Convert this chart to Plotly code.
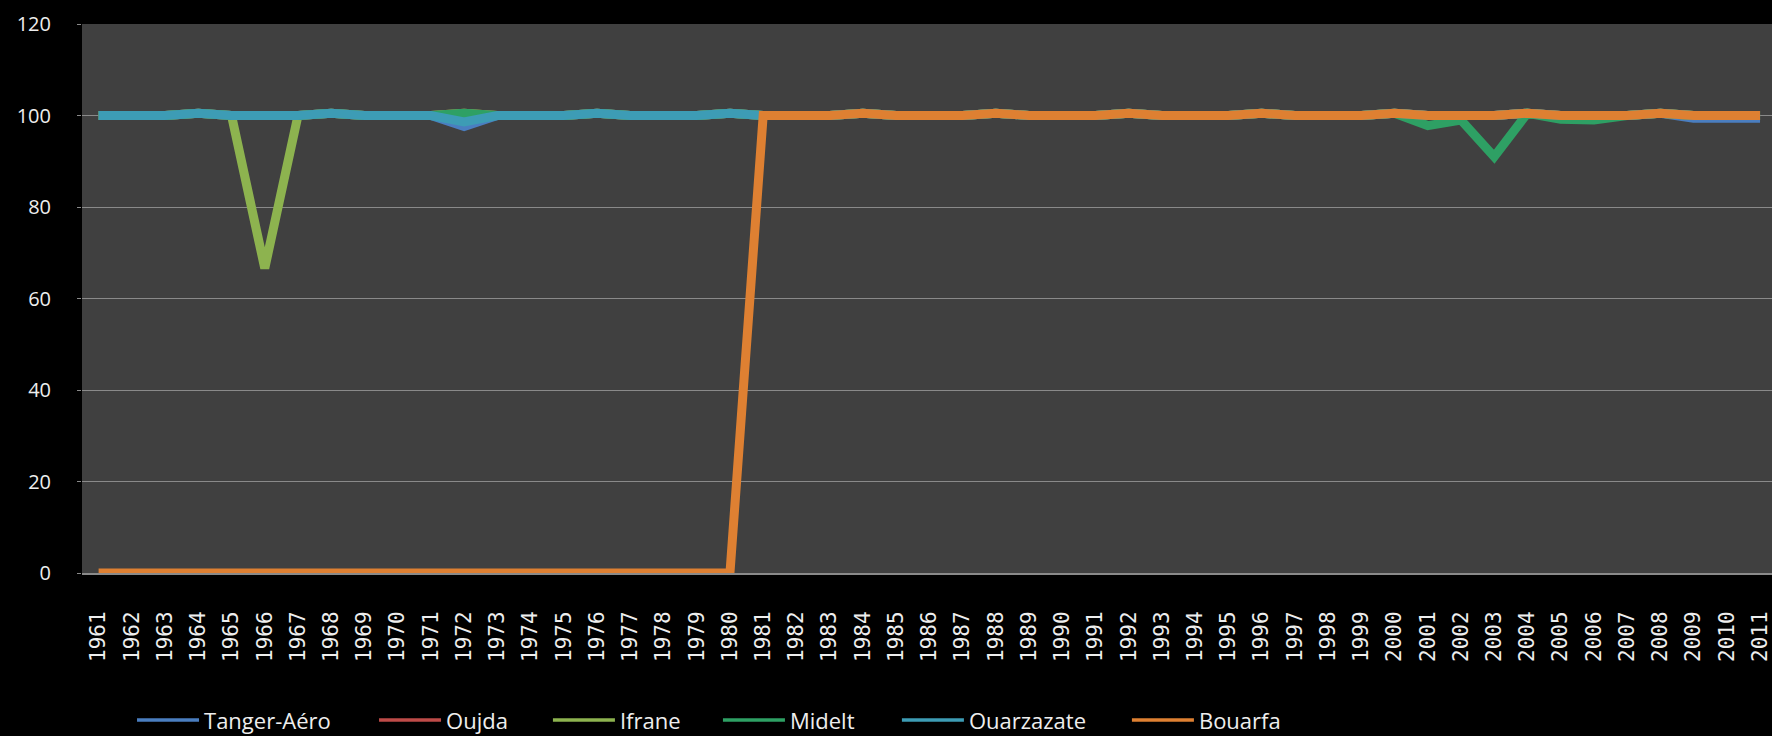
import plotly.graph_objects as go

# Years on the category axis
years = ["1961", "1962", "1963", "1964", "1965", "1966", "1967", "1968", "1969", "1970",
         "1971", "1972", "1973", "1974", "1975", "1976", "1977", "1978", "1979", "1980",
         "1981", "1982", "1983", "1984", "1985", "1986", "1987", "1988", "1989", "1990",
         "1991", "1992", "1993", "1994", "1995", "1996", "1997", "1998", "1999", "2000",
         "2001", "2002", "2003", "2004", "2005", "2006", "2007", "2008", "2009", "2010",
         "2011"]

# Share of available daily records per station (%)
tanger_aero = [100, 100, 100, 100.5, 100, 100, 100, 100.5, 100, 100,
               100, 97.6, 100, 100, 100, 100.5, 100, 100, 100, 100.5,
               100, 100, 100, 100.5, 100, 100, 100, 100.5, 100, 100,
               100, 100.5, 100, 100, 100, 100.5, 100, 100, 100, 100.5,
               100, 100, 100, 100.5, 100, 100, 100, 100.5, 99.4, 99.4,
               99.4]
oujda = [100, 100, 100, 100.5, 100, 100, 100, 100.5, 100, 100,
         100, 100.5, 100, 100, 100, 100.5, 100, 100, 100, 100.5,
         100, 100, 100, 100.5, 100, 100, 100, 100.5, 100, 100,
         100, 100.5, 100, 100, 100, 100.5, 100, 100, 100, 100.5,
         100, 100, 100, 100.5, 100, 100, 100, 100.5, 100, 100,
         100]
ifrane = [100, 100, 100, 100.5, 100, 66.6, 100, 100.5, 100, 100,
          100, 100.5, 100, 100, 100, 100.5, 100, 100, 100, 100.5,
          100, 100, 100, 100.5, 100, 100, 100, 100.5, 100, 100,
          100, 100.5, 100, 100, 100, 100.5, 100, 100, 100, 100.5,
          100, 100, 100, 100.5, 100, 100, 100, 100.5, 100, 100,
          100]
midelt = [100, 100, 100, 100.5, 100, 100, 100, 100.5, 100, 100,
          100, 100.5, 100, 100, 100, 100.5, 100, 100, 100, 100.5,
          100, 100, 100, 100.5, 100, 100, 100, 100.5, 100, 100,
          100, 100.5, 100, 100, 100, 100.5, 100, 100, 100, 100.5,
          97.8, 99.0, 91.0, 100.5, 99.2, 99.0, 100, 100.5, 100, 100,
          100]
ouarzazate = [100, 100, 100, 100.5, 100, 100, 100, 100.5, 100, 100,
              100, 98.6, 100, 100, 100, 100.5, 100, 100, 100, 100.5,
              100, 100, 100, 100.5, 100, 100, 100, 100.5, 100, 100,
              100, 100.5, 100, 100, 100, 100.5, 100, 100, 100, 100.5,
              100, 100, 100, 100.5, 100, 100, 100, 100.5, 100, 100,
              100]
bouarfa = [0, 0, 0, 0, 0, 0, 0, 0, 0, 0,
           0, 0, 0, 0, 0, 0, 0, 0, 0, 0,
           100, 100, 100, 100.5, 100, 100, 100, 100.5, 100, 100,
           100, 100.5, 100, 100, 100, 100.5, 100, 100, 100, 100.5,
           100, 100, 100, 100.5, 100, 100, 100, 100.5, 100, 100,
           100]

station_names = ["Tanger-Aéro", "Oujda", "Ifrane", "Midelt", "Ouarzazate", "Bouarfa"]
station_values = [tanger_aero, oujda, ifrane, midelt, ouarzazate, bouarfa]
station_colors = ["#4A7EC0", "#BE4B48", "#8DB34F", "#2EA064", "#3D9CB5", "#DE8032"]

# Left edge of each legend entry, in paper units of the plot area
legend_x = [0.0296, 0.1728, 0.2757, 0.3763, 0.4822, 0.6183]

text_color = "#EEEEEE"
grid_color = "#8A8A8A"

fig = go.Figure()
for i, (name, values, color) in enumerate(zip(station_names, station_values, station_colors)):
    legend_id = "legend" if i == 0 else f"legend{i + 1}"
    # data line
    fig.add_trace(go.Scatter(
        x=years, y=values, name=name, mode="lines",
        line=dict(color=color, width=9),
        legendgroup=name, showlegend=False,
    ))
    # thin key line for the legend entry
    fig.add_trace(go.Scatter(
        x=[None], y=[None], name=name, mode="lines",
        line=dict(color=color, width=3.5),
        legendgroup=name, showlegend=True, legend=legend_id,
        hoverinfo="skip",
    ))

legend_style = dict(
    orientation="h",
    xanchor="left",
    y=-0.268, yanchor="middle",
    font=dict(family="Open Sans", size=22, color=text_color),
    itemwidth=62,
    bgcolor="rgba(0,0,0,0)",
)

layout_legends = {}
for i, lx in enumerate(legend_x):
    key = "legend" if i == 0 else f"legend{i + 1}"
    layout_legends[key] = dict(legend_style, x=lx)

fig.update_layout(
    width=1772, height=736,
    margin=dict(l=82, r=0, t=24, b=163, autoexpand=False),
    paper_bgcolor="#000000",
    plot_bgcolor="#404040",
    showlegend=True,
    xaxis=dict(
        type="category",
        range=[-0.5, 50.36],
        showgrid=False,
        showline=True, linecolor=grid_color, linewidth=2,
        ticks="",
        tickangle=-90,
        ticklabelstandoff=28,
        tickfont=dict(family="DejaVu Sans Mono", size=21, color=text_color),
        zeroline=False,
    ),
    yaxis=dict(
        range=[0, 120],
        dtick=20,
        showgrid=True, gridcolor=grid_color, gridwidth=1,
        showline=False,
        zeroline=False,
        ticks="outside", ticklen=4, tickcolor=grid_color,
        ticklabelstandoff=22,
        tickfont=dict(family="Open Sans", size=20, color=text_color),
    ),
    **layout_legends,
)

fig.write_html("out.html")
